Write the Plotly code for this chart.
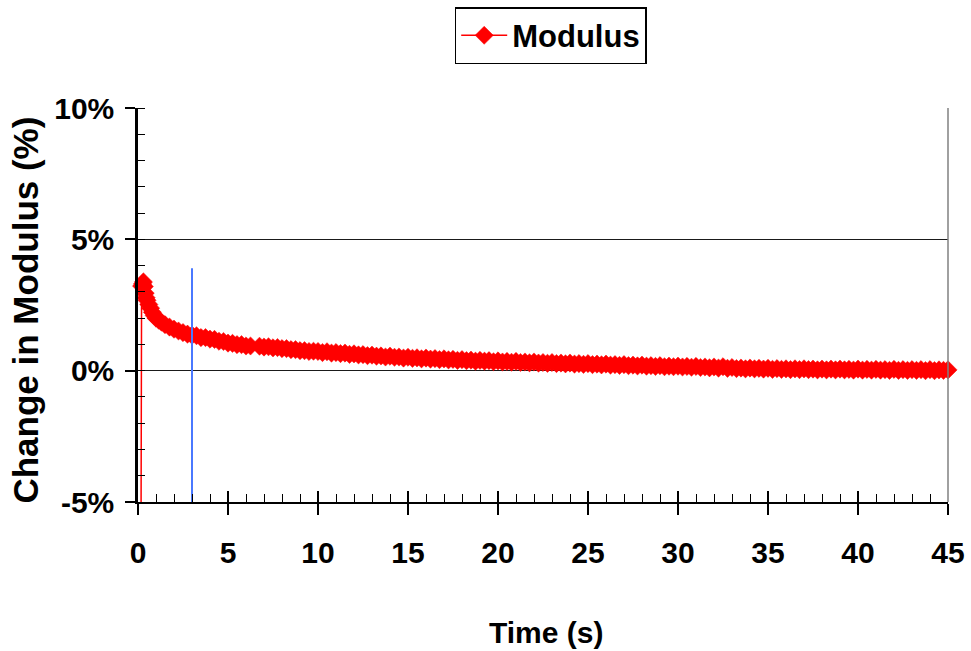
import plotly.graph_objects as go

# Sampled response: time (s) and change in modulus (%)
time_s = [
    0.17, 0.20, 0.25, 0.30, 0.35, 0.40, 0.45, 0.50, 0.60, 0.70, 0.80, 0.90,
    1.00, 1.15, 1.30, 1.50, 1.75, 2.00, 2.25, 2.50, 2.75, 3.00,
    3.25, 3.50, 3.75, 4.00, 4.25, 4.50, 4.75, 5.00, 5.25, 5.50, 5.75, 6.00,
    6.25, 6.75, 7.00, 7.25, 7.50, 7.75, 8.00, 8.25, 8.50, 8.75, 9.00, 9.25,
    9.50, 9.75,
    10.00, 10.25, 10.50, 10.75, 11.00, 11.25, 11.50, 11.75,
    12.00, 12.25, 12.50, 12.75, 13.00, 13.25, 13.50, 13.75,
    14.00, 14.25, 14.50, 14.75, 15.00, 15.25, 15.50, 15.75,
    16.00, 16.25, 16.50, 16.75, 17.00, 17.25, 17.50, 17.75,
    18.00, 18.25, 18.50, 18.75, 19.00, 19.25, 19.50, 19.75,
    20.00, 20.25, 20.50, 20.75, 21.00, 21.25, 21.50, 21.75,
    22.00, 22.25, 22.50, 22.75, 23.00, 23.25, 23.50, 23.75,
    24.00, 24.25, 24.50, 24.75, 25.00, 25.25, 25.50, 25.75,
    26.00, 26.25, 26.50, 26.75, 27.00, 27.25, 27.50, 27.75,
    28.00, 28.25, 28.50, 28.75, 29.00, 29.25, 29.50, 29.75,
    30.00, 30.25, 30.50, 30.75, 31.00, 31.25, 31.50, 31.75,
    32.00, 32.25, 32.50, 32.75, 33.00, 33.25, 33.50, 33.75,
    34.00, 34.25, 34.50, 34.75, 35.00, 35.25, 35.50, 35.75,
    36.00, 36.25, 36.50, 36.75, 37.00, 37.25, 37.50, 37.75,
    38.00, 38.25, 38.50, 38.75, 39.00, 39.25, 39.50, 39.75,
    40.00, 40.25, 40.50, 40.75, 41.00, 41.25, 41.50, 41.75,
    42.00, 42.25, 42.50, 42.75, 43.00, 43.25, 43.50, 43.75,
    44.00, 44.25, 44.50, 44.75, 45.00,
]
modulus_pct = [
    -5.60, 3.22, 3.30, 3.38, 3.20, 2.95, 2.78, 2.68, 2.52, 2.38, 2.22, 2.10,
    2.00, 1.92, 1.85, 1.75, 1.66, 1.58, 1.51, 1.45, 1.39, 1.35,
    1.33, 1.26, 1.26, 1.20, 1.19, 1.12, 1.11, 1.05, 1.04, 0.99, 0.99, 0.94,
    0.94, 0.93, 0.90, 0.91, 0.87, 0.88, 0.84, 0.84, 0.80, 0.80, 0.76, 0.76,
    0.73, 0.74,
    0.73, 0.69, 0.72, 0.67, 0.69, 0.65, 0.67, 0.62,
    0.64, 0.60, 0.61, 0.57, 0.59, 0.55, 0.56, 0.52,
    0.55, 0.51, 0.52, 0.48, 0.51, 0.47, 0.49, 0.45,
    0.48, 0.44, 0.46, 0.42, 0.45, 0.41, 0.43, 0.39,
    0.42, 0.38, 0.40, 0.36, 0.39, 0.36, 0.38, 0.34,
    0.37, 0.33, 0.35, 0.32, 0.35, 0.31, 0.33, 0.30,
    0.33, 0.29, 0.31, 0.28, 0.31, 0.27, 0.29, 0.26,
    0.29, 0.25, 0.27, 0.24, 0.27, 0.23, 0.25, 0.22,
    0.25, 0.21, 0.23, 0.20, 0.23, 0.19, 0.21, 0.18,
    0.21, 0.17, 0.19, 0.16, 0.19, 0.15, 0.17, 0.15,
    0.17, 0.14, 0.16, 0.13, 0.16, 0.12, 0.14, 0.11,
    0.14, 0.10, 0.15, 0.09, 0.12, 0.08, 0.10, 0.07,
    0.10, 0.07, 0.09, 0.06, 0.09, 0.05, 0.08, 0.05,
    0.07, 0.04, 0.07, 0.04, 0.07, 0.04, 0.06, 0.03,
    0.06, 0.03, 0.06, 0.03, 0.06, 0.03, 0.05, 0.02,
    0.06, 0.02, 0.05, 0.02, 0.05, 0.02, 0.04, 0.01,
    0.05, 0.01, 0.04, 0.01, 0.04, 0.01, 0.04, 0.00,
    0.04, 0.00, 0.03, 0.01, 0.03,
]

# Reference marker at t = 3 s
marker_time = [3.0, 3.0]
marker_span = [3.9, -5.0]

y_ticks = [-5, 0, 5, 10]
y_tick_text = ["-5%", "0%", "5%", "10%"]
x_ticks = [0, 5, 10, 15, 20, 25, 30, 35, 40, 45]

FONT = "Liberation Sans, Arial, sans-serif"

# the first sample sits far below the axis: draw its line only
marker_sizes = [0] + [14] * (len(time_s) - 1)

fig = go.Figure()
fig.add_trace(go.Scatter(
    x=time_s, y=modulus_pct, name="Modulus",
    mode="lines+markers",
    line=dict(color="#ff0000", width=1.5),
    marker=dict(symbol="diamond", color="#ff0000", size=marker_sizes,
                opacity=1, line=dict(width=0.5, color="#ff0000")),
    cliponaxis=False,
))
fig.add_trace(go.Scatter(
    x=marker_time, y=marker_span, xaxis="x2", mode="lines",
    line=dict(color="#4a78ff", width=2), showlegend=False, hoverinfo="skip",
))

fig.update_layout(
    width=971, height=651,
    margin=dict(l=138, r=23, t=108, b=149, autoexpand=False),
    paper_bgcolor="white", plot_bgcolor="white",
    font=dict(family=FONT, color="black"),
    showlegend=True,
    legend=dict(
        x=0.391, y=1.256, xanchor="left", yanchor="top",
        bgcolor="white", bordercolor="black", borderwidth=1.5,
        font=dict(family=FONT, size=31, weight="bold", color="black"),
        itemwidth=46,
    ),
    xaxis=dict(
        range=[0, 45], tickvals=x_ticks, ticks="outside", ticklen=11,
        tickwidth=1.5, tickcolor="black",
        showline=True, linecolor="black", linewidth=2,
        showgrid=False, zeroline=False, automargin=False,
        tickfont=dict(family=FONT, size=30, weight="bold"),
        ticklabelstandoff=12,
    ),
    xaxis2=dict(
        range=[0, 45], overlaying="x", anchor="y", side="bottom",
        tickvals=x_ticks, ticks="inside", ticklen=11, tickwidth=1.5,
        tickcolor="black", showticklabels=False, showline=False,
        showgrid=False, zeroline=False, automargin=False,
        minor=dict(ticks="inside", ticklen=8, dtick=1, tickwidth=1,
                   tickcolor="black", showgrid=False),
    ),
    yaxis=dict(
        range=[-5, 10], tickvals=y_ticks, ticktext=y_tick_text,
        ticks="outside", ticklen=10, tickwidth=1.5, tickcolor="black",
        showline=True, linecolor="black", linewidth=2.5,
        showgrid=True, gridcolor="#1a1a1a", gridwidth=1,
        zeroline=False, automargin=False,
        tickfont=dict(family=FONT, size=30, weight="bold"),
        ticklabelstandoff=5,
        minor=dict(ticks="inside", ticklen=7, dtick=1, tickwidth=1,
                   tickcolor="black", showgrid=False),
    ),
    shapes=[dict(type="line", xref="paper", yref="paper",
                 x0=1, x1=1, y0=0, y1=1,
                 line=dict(color="#808080", width=1.5))],
    annotations=[
        dict(text="Change in Modulus (%)", xref="paper", yref="paper",
             x=-0.139, y=0.487, textangle=-90, showarrow=False,
             xanchor="center", yanchor="middle",
             font=dict(family=FONT, size=35, weight="bold")),
        dict(text="Time (s)", xref="paper", yref="paper",
             x=0.504, y=-0.33, showarrow=False,
             xanchor="center", yanchor="middle",
             font=dict(family=FONT, size=30, weight="bold")),
    ],
)

fig.write_html("out.html")
